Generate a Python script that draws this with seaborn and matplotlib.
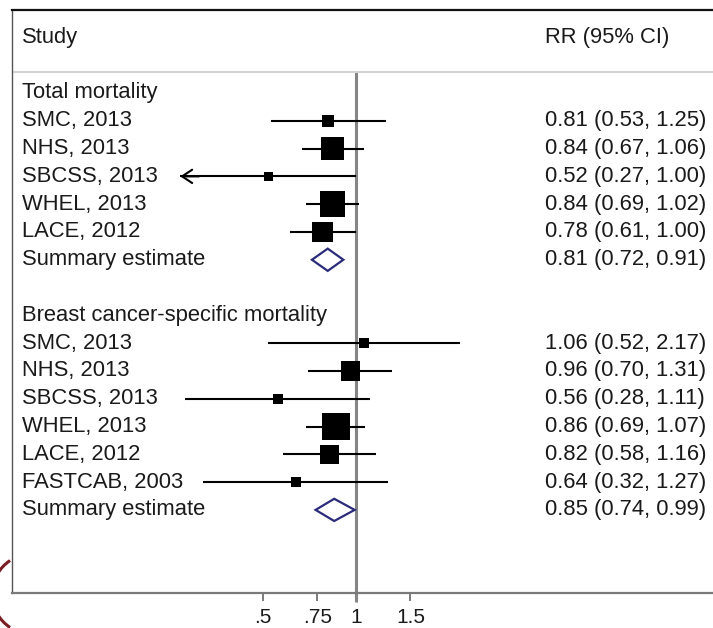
import numpy as np
import pandas as pd
import matplotlib
matplotlib.use("Agg")
import matplotlib.pyplot as plt
import matplotlib.transforms as mtransforms
from matplotlib.patches import Polygon, Arc
import seaborn as sns

# ---------------- data ----------------
group_titles = ["Total mortality", "Breast cancer-specific mortality"]

total_studies = ["SMC, 2013", "NHS, 2013", "SBCSS, 2013", "WHEL, 2013", "LACE, 2012"]
total_rr = [0.81, 0.84, 0.52, 0.84, 0.78]
total_lo = [0.53, 0.67, 0.27, 0.69, 0.61]
total_hi = [1.25, 1.06, 1.00, 1.02, 1.00]
total_weight = [8.3, 27.9, 4.7, 36.0, 23.1]
total_summary = [0.81, 0.72, 0.91]

bc_studies = ["SMC, 2013", "NHS, 2013", "SBCSS, 2013", "WHEL, 2013", "LACE, 2012", "FASTCAB, 2003"]
bc_rr = [1.06, 0.96, 0.56, 0.86, 0.82, 0.64]
bc_lo = [0.52, 0.70, 0.28, 0.69, 0.58, 0.32]
bc_hi = [2.17, 1.31, 1.11, 1.07, 1.16, 1.27]
bc_weight = [5.8, 21.1, 5.8, 42.5, 18.9, 5.8]
bc_summary = [0.85, 0.74, 0.99]

# studies whose CI runs off the displayed range (drawn with an arrow)
arrow_lower = [("Total mortality", "SBCSS, 2013")]

summary_label = "Summary estimate"
header_left = "Study"
header_right = "RR (95% CI)"
tick_values = [0.5, 0.75, 1, 1.5]
tick_labels = [".5", ".75", "1", "1.5"]

# ---------------- build table ----------------
rows = []
pos = 0
for title, studies, rr, lo, hi, w, summ in [
    (group_titles[0], total_studies, total_rr, total_lo, total_hi, total_weight, total_summary),
    (group_titles[1], bc_studies, bc_rr, bc_lo, bc_hi, bc_weight, bc_summary),
]:
    rows.append(dict(kind="title", label=title, group=title, y=pos))
    pos += 1
    for s, a, b, c, ww in zip(studies, rr, lo, hi, w):
        rows.append(dict(kind="study", label=s, group=title, y=pos, rr=a, lo=b, hi=c, weight=ww))
        pos += 1
    rows.append(dict(kind="summary", label=summary_label, group=title, y=pos,
                     rr=summ[0], lo=summ[1], hi=summ[2]))
    pos += 2
df = pd.DataFrame(rows)
studies_df = df[df.kind == "study"].copy()

# ---------------- figure ----------------
sns.set_style("white")
plt.rcParams["font.family"] = ["Liberation Sans", "DejaVu Sans"]

W, H, DPI = 713, 628, 100
fig = plt.figure(figsize=(W / DPI, H / DPI), dpi=DPI)
ax = fig.add_axes([12 / W, (H - 593) / H, (720 - 12) / W, (593 - 10) / H])

text_color = "#1a1a1a"
fs = 15.8

# confidence interval lines
ax.hlines(studies_df.y, studies_df.lo, studies_df.hi, color="black", lw=1.5, zorder=2)

# weighted squares (area proportional to weight)
c = 9.4
wmin, wmax = studies_df.weight.min(), studies_df.weight.max()
sns.scatterplot(data=studies_df, x="rr", y="y", size="weight",
                sizes=(wmin * c, wmax * c), size_norm=(wmin, wmax),
                marker="s", color="black", linewidth=0, legend=False,
                ax=ax, zorder=3)

# arrows for truncated CIs
for grp, lab in arrow_lower:
    r = studies_df[(studies_df.group == grp) & (studies_df.label == lab)].iloc[0]
    ax.annotate("", xy=(r.lo, r.y), xytext=(r.lo * 1.15, r.y),
                arrowprops=dict(arrowstyle="->,head_length=0.45,head_width=0.3",
                                lw=1.5, color="black", shrinkA=0, shrinkB=0,
                                mutation_scale=16), zorder=4)

# summary diamonds
for _, r in df[df.kind == "summary"].iterrows():
    poly = Polygon([[r.lo, r.y], [r.rr, r.y - 0.4], [r.hi, r.y], [r.rr, r.y + 0.4]],
                   closed=True, facecolor="white", edgecolor="#2b2b7c", lw=1.6, zorder=3)
    ax.add_patch(poly)

# reference line at 1
ax.vlines(1, -0.755, 18.31, color="#858585", lw=2.2, zorder=1, clip_on=False)
# header separator
ax.axhline(-0.755, color="#d4d4d4", lw=1.5, zorder=1)

# axes scales
ax.set_xscale("log")
ax.set_xlim(np.exp((12 - 356) / 134.2), np.exp((720 - 356) / 134.2))
ax.set_ylim(17.99, -2.986)
ax.set_xticks(tick_values)
ax.set_xticklabels(tick_labels)
ax.xaxis.set_minor_locator(matplotlib.ticker.NullLocator())
ax.set_yticks([])
ax.set_xlabel("")
ax.set_ylabel("")
ax.tick_params(axis="x", direction="out", length=6, width=1.4, color="#7a7a7a",
               labelsize=15, labelcolor=text_color, pad=5, bottom=True)

for side, sp in ax.spines.items():
    sp.set_visible(True)
ax.spines["top"].set_color("#111111")
ax.spines["top"].set_linewidth(1.6)
ax.spines["left"].set_color("#555555")
ax.spines["left"].set_linewidth(1.0)
ax.spines["bottom"].set_color("#7a7a7a")
ax.spines["bottom"].set_linewidth(1.6)
ax.spines["right"].set_visible(False)

# text columns
trans = mtransforms.blended_transform_factory(ax.transAxes, ax.transData)
xl = (22 - 12) / 708
xr = (545 - 12) / 708
ax.text(xl, -1.98, header_left, transform=trans, ha="left", va="center",
        fontsize=fs, color=text_color)
ax.text(xr, -1.98, header_right, transform=trans, ha="left", va="center",
        fontsize=fs, color=text_color)
for _, r in df.iterrows():
    ax.text(xl, r.y, r.label, transform=trans, ha="left", va="center",
            fontsize=fs, color=text_color)
    if r.kind != "title":
        ax.text(xr, r.y, f"{r.rr:.2f} ({r.lo:.2f}, {r.hi:.2f})", transform=trans,
                ha="left", va="center", fontsize=fs, color=text_color)

# decorative partial arc at lower-left edge (cropped logo in the original)
arc = Arc((32 / W, (H - 594) / H), 80 / W, 80 / H, theta1=120, theta2=240,
          transform=fig.transFigure, color="#7b1e23", lw=2.2)
fig.add_artist(arc)

fig.savefig("out.png", dpi=DPI)
